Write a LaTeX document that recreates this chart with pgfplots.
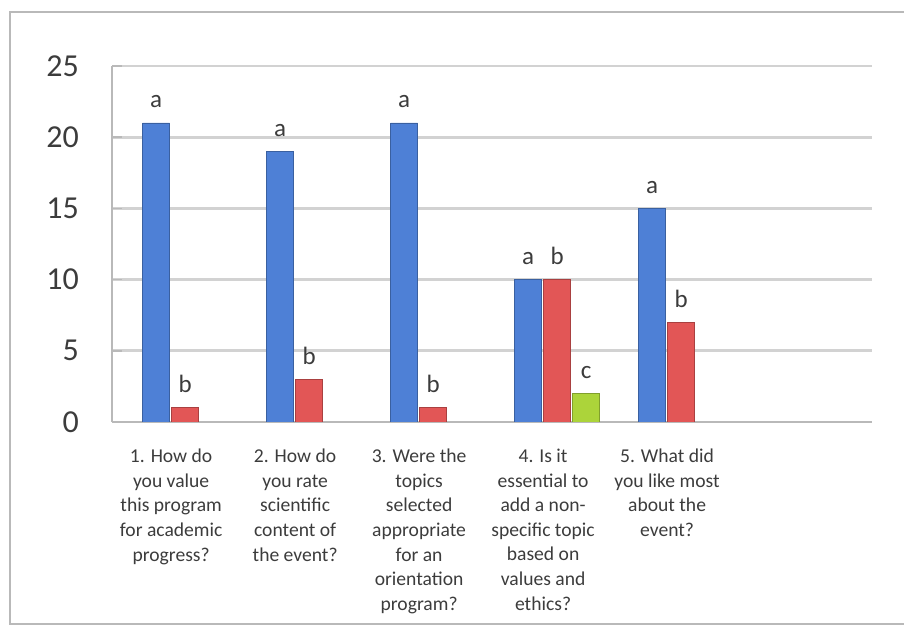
\documentclass[border=0pt]{standalone}
\usepackage{fontspec}
\setmainfont{Carlito}
\usepackage{pgfplots}
\pgfplotsset{compat=1.18}
\definecolor{barA}{RGB}{78,128,214}
\definecolor{barB}{RGB}{226,86,86}
\definecolor{barC}{RGB}{172,212,58}
\definecolor{txt}{RGB}{60,60,60}
\begin{document}
\begin{tikzpicture}[x=1pt,y=1pt]
\useasboundingbox (0,0) rectangle (452,315);
\draw[gray!55, line width=1pt] (5,3) rectangle (480,309);
\begin{axis}[
  at={(56pt,104pt)}, anchor=south west,
  scale only axis, width=380pt, height=178pt,
  ymin=0, ymax=25, xmin=-0.59, xmax=5.54,
  ytick={0,5,...,25},
  xtick={0,1,2,3,4},
  xticklabels={{1. How do\\you value\\this program\\for academic\\progress?},
               {2. How do\\you rate\\scientific\\content of\\the event?},
               {3. Were the\\topics\\selected\\appropriate\\for an\\orientation\\program?},
               {4. Is it\\essential to\\add a non-\\specific topic\\based on\\values and\\ethics?},
               {5. What did\\you like most\\about the\\event?}},
  axis x line*=bottom, axis y line*=left,
  axis line style={gray!55, line width=1pt},
  ymajorgrids, grid style={gray!35, line width=1.4pt},
  xtick style={draw=none},
  ytick style={gray!55, line width=0.8pt},
  major tick length=5pt,
  /pgf/number format/assume math mode=true,
  yticklabel style={font=\fontsize{16}{18}\selectfont, text=txt, xshift=-13pt},
  xticklabel style={align=center, font=\fontsize{9.8}{12.3}\selectfont, text=txt, yshift=-5pt, xshift=-7pt},
  ybar=1pt, bar width=13.5pt,
  nodes near coords style={font=\fontsize{12.5}{13}\selectfont, text=txt, yshift=4pt},
]
\addplot[draw=barA!75!black, fill=barA, nodes near coords={a}]
  coordinates {(0,21) (1,19) (2,21) (3,10) (4,15)};
\addplot[draw=barB!75!black, fill=barB, nodes near coords={b}]
  coordinates {(0,1) (1,3) (2,1) (3,10) (4,7)};
\addplot[draw=barC!75!black, fill=barC, nodes near coords={c}]
  coordinates {(3,2)};
\end{axis}
\end{tikzpicture}
\end{document}
